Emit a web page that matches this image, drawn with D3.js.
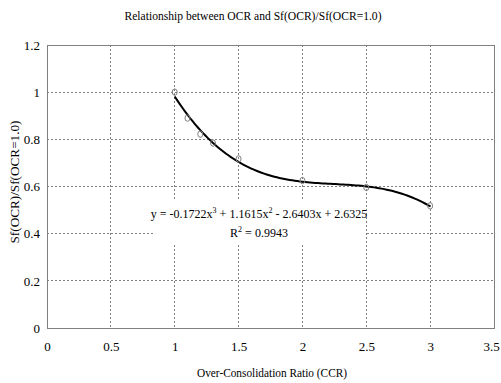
<!DOCTYPE html>
<html>
<head>
<meta charset="utf-8">
<script src="https://cdn.jsdelivr.net/npm/d3@7"></script>
<style>
  body { margin: 0; background: #fff; }
  svg text { font-family: "Liberation Serif", "Times New Roman", serif; fill: #000; }
</style>
</head>
<body>
<svg id="chart"></svg>
<script>
// measured points
const ocr = [1.0, 1.1, 1.2, 1.3, 1.5, 2.0, 2.5, 3.0];
const sfRatio = [1.0, 0.89, 0.822, 0.784, 0.717, 0.625, 0.596, 0.518];

// cubic trend line (from the chart's equation)
const trendCoef = [-0.1722, 1.1615, -2.6403, 2.6325];
const trendRange = [1, 3];

const xTicks = [0, 0.5, 1, 1.5, 2, 2.5, 3, 3.5];
const yTicks = [0, 0.2, 0.4, 0.6, 0.8, 1, 1.2];

const width = 501, height = 383;
const margin = { top: 45, right: 7, bottom: 55, left: 47 };
const w = width - margin.left - margin.right;
const h = height - margin.top - margin.bottom;

const svg = d3.select('#chart')
    .attr('width', width)
    .attr('height', height);

const x = d3.scaleLinear().domain([0, 3.5]).range([0, w]);
const y = d3.scaleLinear().domain([0, 1.2]).range([h, 0]);

const g = svg.append('g')
    .attr('transform', `translate(${margin.left},${margin.top})`);

// gridlines
g.selectAll('.vgrid')
  .data(xTicks.filter(d => d > 0 && d < 3.5))
  .enter().append('line')
    .attr('x1', d => x(d)).attr('x2', d => x(d))
    .attr('y1', 0).attr('y2', h)
    .attr('stroke', '#808080')
    .attr('stroke-width', 1)
    .attr('stroke-dasharray', '2,2')
    .attr('shape-rendering', 'crispEdges');

g.selectAll('.hgrid')
  .data(yTicks.filter(d => d > 0 && d < 1.2))
  .enter().append('line')
    .attr('x1', 0).attr('x2', w)
    .attr('y1', d => y(d)).attr('y2', d => y(d))
    .attr('stroke', '#808080')
    .attr('stroke-width', 1)
    .attr('stroke-dasharray', '2,2')
    .attr('shape-rendering', 'crispEdges');

// plot frame
g.append('rect')
    .attr('x', 0).attr('y', 0)
    .attr('width', w).attr('height', h)
    .attr('fill', 'none')
    .attr('stroke', '#808080')
    .attr('shape-rendering', 'crispEdges');

// axes (labels only)
const xAxis = d3.axisBottom(x).tickValues(xTicks).tickSize(0).tickPadding(14)
    .tickFormat(d3.format('~g'));
const xAxisG = g.append('g')
    .attr('transform', `translate(0,${h})`)
    .call(xAxis)
    .call(a => a.select('.domain').remove());
xAxisG.selectAll('text')
    .style('font-size', '13px')
    .style('font-family', '"Liberation Serif", serif');
// last label sits on the edge, nudge it in a bit
xAxisG.selectAll('.tick').filter(d => d === 3.5).select('text').attr('dx', -3);

const yAxis = d3.axisLeft(y).tickValues(yTicks).tickSize(0).tickPadding(7)
    .tickFormat(d3.format('~g'));
g.append('g')
    .call(yAxis)
    .call(a => a.select('.domain').remove())
    .selectAll('text')
    .style('font-size', '13px')
    .style('font-family', '"Liberation Serif", serif');

// trend curve
const poly = v => trendCoef[0] * v ** 3 + trendCoef[1] * v ** 2 + trendCoef[2] * v + trendCoef[3];
const curvePts = d3.range(trendRange[0], trendRange[1] + 0.0001, 0.02).map(v => [v, poly(v)]);
g.append('path')
    .datum(curvePts)
    .attr('fill', 'none')
    .attr('stroke', '#000')
    .attr('stroke-width', 2)
    .attr('d', d3.line().x(d => x(d[0])).y(d => y(d[1])));

// data markers
g.selectAll('.pt')
  .data(ocr.map((d, i) => [d, sfRatio[i]]))
  .enter().append('ellipse')
    .attr('cx', d => x(d[0]))
    .attr('cy', d => y(d[1]))
    .attr('rx', 2.5).attr('ry', 3.2)
    .attr('fill', 'none')
    .attr('stroke', '#808080')
    .attr('stroke-width', 1);

// equation label with white background
const eqX = 259;
g.append('rect')
    .attr('x', 153 - margin.left).attr('y', 201 - margin.top)
    .attr('width', 212).attr('height', 44)
    .attr('fill', '#fff');

const eq = g.append('text')
    .attr('x', eqX - margin.left).attr('y', 218 - margin.top)
    .attr('text-anchor', 'middle')
    .style('font-size', '12px');
eq.append('tspan').text('y = -0.1722x');
eq.append('tspan').attr('dy', -5).style('font-size', '8px').text('3');
eq.append('tspan').attr('dy', 5).text(' + 1.1615x');
eq.append('tspan').attr('dy', -5).style('font-size', '8px').text('2');
eq.append('tspan').attr('dy', 5).text(' - 2.6403x + 2.6325');

const r2 = g.append('text')
    .attr('x', eqX - margin.left).attr('y', 237 - margin.top)
    .attr('text-anchor', 'middle')
    .style('font-size', '12px');
r2.append('tspan').text('R');
r2.append('tspan').attr('dy', -5).style('font-size', '8px').text('2');
r2.append('tspan').attr('dy', 5).text(' = 0.9943');

// titles
svg.append('text')
    .attr('x', 253).attr('y', 20)
    .attr('text-anchor', 'middle')
    .style('font-size', '13px')
    .attr('textLength', 257)
    .attr('lengthAdjust', 'spacingAndGlyphs')
    .text('Relationship between OCR and Sf(OCR)/Sf(OCR=1.0)');

svg.append('text')
    .attr('x', 272).attr('y', 377)
    .attr('text-anchor', 'middle')
    .style('font-size', '13px')
    .attr('textLength', 150)
    .attr('lengthAdjust', 'spacingAndGlyphs')
    .text('Over-Consolidation Ratio (CCR)');

svg.append('text')
    .attr('transform', 'translate(19,182) rotate(-90)')
    .attr('text-anchor', 'middle')
    .style('font-size', '13px')
    .attr('textLength', 123)
    .attr('lengthAdjust', 'spacingAndGlyphs')
    .text('Sf(OCR)/Sf(OCR=1.0)');
</script>
</body>
</html>
